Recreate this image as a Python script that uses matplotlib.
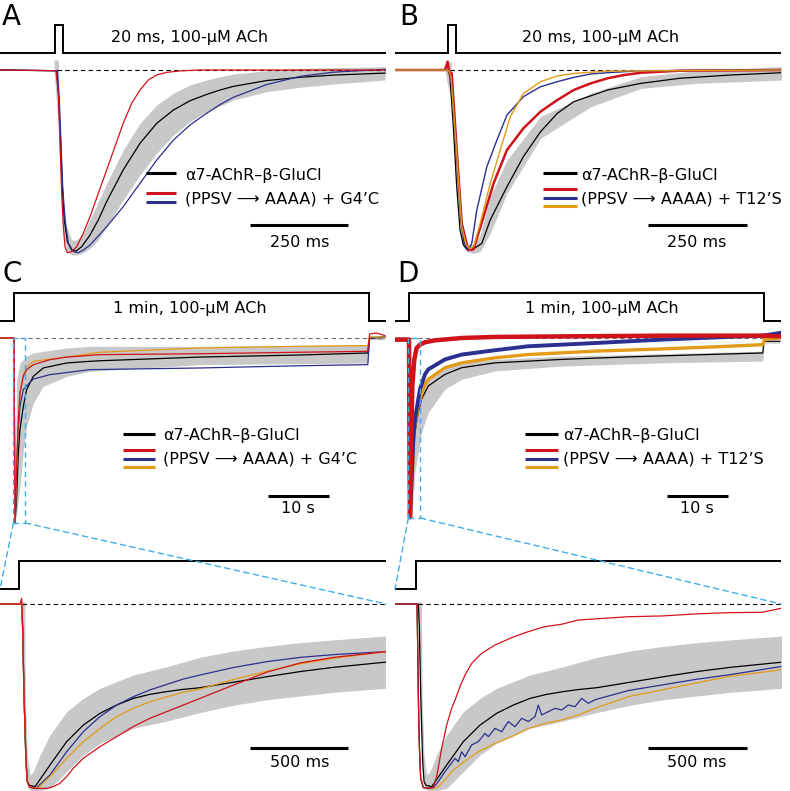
import numpy as np
import matplotlib
matplotlib.use('Agg')
import matplotlib.pyplot as plt
from matplotlib.lines import Line2D
from matplotlib.patches import Rectangle, ConnectionPatch

W, H = 790, 791

RED = '#d0121b'
BLUE = '#2b2f8f'
ORANGE = '#e39b17'
BAND = '#c8c8c8'
LINK = '#41aee8'

# ---------------- data (normalised current, 0 = baseline, -1 = peak) ----------------
# A: 20 ms pulse, time in ms
A_T_RED = [-140, 2.6, 8.5, 12.8, 17, 21.3, 25.5, 31.5, 42.5, 55.3, 72.3, 89.3, 110.5, 131.8, 153, 174, 195.6, 216.8, 238, 259.4, 285, 319, 370, 842]
A_I_RED = [0, -0.004, -0.128, -0.403, -0.678, -0.861, -0.971, -1.004, -0.998, -0.971, -0.897, -0.806, -0.678, -0.549, -0.421, -0.293, -0.183, -0.11, -0.055, -0.027, -0.013, -0.005, 0, 0]
A_T_BLUE = [-140, 5.9, 11, 15.3, 19.6, 25.5, 34, 46.8, 59.5, 72.3, 89.3, 131.8, 174, 216.8, 259.4, 302, 344.4, 387, 421, 455, 540, 625, 710, 842]
A_I_BLUE = [0, -0.004, -0.165, -0.403, -0.641, -0.824, -0.952, -0.998, -1.004, -0.989, -0.962, -0.861, -0.751, -0.623, -0.495, -0.385, -0.302, -0.238, -0.19, -0.15, -0.08, -0.035, -0.012, 0.004]
A_T_BLACK = [-140, 4.3, 9.4, 14.5, 18.7, 23.8, 31.5, 42.5, 53.6, 68, 89.3, 110.5, 131.8, 174, 216.8, 259.4, 302, 344.4, 387, 421, 455, 540, 625, 710, 842]
A_I_BLACK = [0, -0.004, -0.147, -0.403, -0.641, -0.824, -0.943, -0.989, -0.995, -0.971, -0.907, -0.824, -0.723, -0.549, -0.403, -0.293, -0.22, -0.169, -0.134, -0.11, -0.09, -0.058, -0.04, -0.028, -0.017]
A_T_BAND = [-2.6, 8.5, 12.8, 17, 23, 29.8, 42.5, 55.3, 72.3, 89.3, 110.5, 131.8, 174, 216.8, 259.4, 302, 344.4, 387, 421, 455, 540, 625, 710, 842]
A_BAND_HI = [0.055, 0.055, -0.311, -0.549, -0.751, -0.861, -0.934, -0.934, -0.897, -0.824, -0.723, -0.623, -0.44, -0.293, -0.192, -0.128, -0.082, -0.055, -0.037, -0.022, -0.004, 0.009, 0.013, 0.018]
A_BAND_LO = [-0.004, -0.311, -0.549, -0.751, -0.916, -0.989, -1.016, -1.016, -1.004, -0.98, -0.934, -0.861, -0.714, -0.577, -0.458, -0.357, -0.284, -0.229, -0.198, -0.165, -0.119, -0.095, -0.077, -0.055]

# B: 20 ms pulse, time in ms
B_T_RED = [-135.5, -8.5, -1.7, 1.7, 8.5, 21.2, 33.9, 50, 63.5, 89, 114.3, 148.2, 189.7, 232.9, 275.2, 316.7, 359.9, 402.2, 443.7, 486.9, 584.4, 842.8]
B_I_RED = [0, 0, 0.046, -0.009, -0.019, -0.444, -0.852, -1.0, -0.996, -0.815, -0.63, -0.444, -0.324, -0.231, -0.167, -0.111, -0.074, -0.046, -0.028, -0.015, -0.004, 0]
B_T_BLUE = [-135.5, -4.2, 1.7, 6.8, 21.2, 33.9, 40, 46.6, 52, 59.3, 72, 97.4, 122.8, 148.2, 189.7, 232.9, 275.2, 316.7, 359.9, 402.2, 486.9, 842.8]
B_I_BLUE = [0, 0, -0.004, -0.037, -0.463, -0.87, -0.96, -0.991, -0.995, -0.963, -0.778, -0.537, -0.389, -0.25, -0.148, -0.093, -0.065, -0.041, -0.022, -0.015, -0.004, 0]
B_T_ORANGE = [-135.5, -4.2, 1.7, 6.8, 21.2, 33.9, 45, 55.1, 65, 80.5, 105.9, 131.3, 156.7, 189.7, 232.9, 275.2, 316.7, 402.2, 842.8]
B_I_ORANGE = [0, 0, -0.004, -0.037, -0.463, -0.87, -0.97, -0.995, -0.975, -0.852, -0.63, -0.444, -0.259, -0.13, -0.065, -0.033, -0.019, -0.006, 0]
B_T_BLACK = [-135.5, -4.2, 0, 4.2, 12.7, 21.2, 29.6, 38.1, 46.6, 59.3, 84.7, 105.9, 148.2, 189.7, 232.9, 275.2, 316.7, 402.2, 486.9, 584.4, 711.5, 842.8]
B_I_BLACK = [0, 0, -0.004, -0.037, -0.315, -0.648, -0.889, -0.972, -0.996, -1.0, -0.963, -0.833, -0.648, -0.481, -0.343, -0.241, -0.176, -0.111, -0.074, -0.046, -0.028, -0.015]
B_T_BAND = [-8.5, -4.2, 6.8, 21.2, 33.9, 46.6, 63.5, 80.5, 105.9, 148.2, 232.9, 359.9, 486.9, 626.6, 842.8]
B_BAND_HI = [0, 0.046, 0.046, -0.426, -0.833, -0.963, -0.972, -0.917, -0.704, -0.5, -0.259, -0.13, -0.037, -0.004, 0.019]
B_BAND_LO = [0, -0.056, -0.167, -0.648, -0.963, -1.009, -1.019, -1.009, -0.907, -0.685, -0.38, -0.204, -0.102, -0.074, -0.056]

# C: 1 min application, time in s
C_T_RED = [-2.29, -0.11, 0, 0.16, 0.44, 0.71, 0.98, 1.53, 2.07, 3.17, 5.9, 8.63, 14.1, 30.5, 46.8, 58.0, 58.3, 59.4, 60.8]
C_I_RED = [0, 0, 0, -1.0, -0.694, -0.441, -0.297, -0.207, -0.171, -0.144, -0.117, -0.103, -0.09, -0.085, -0.077, -0.072, 0.022, 0.027, 0.013]
C_T_BLUE = [-2.29, 0, 0.16, 0.44, 0.71, 0.98, 1.53, 2.07, 3.17, 5.9, 12.45, 30.5, 46.8, 58.0, 58.3, 60.8]
C_I_BLUE = [0, 0, -1.0, -0.694, -0.495, -0.369, -0.279, -0.258, -0.222, -0.198, -0.171, -0.162, -0.15, -0.144, 0, 0.005]
C_T_ORANGE = [-2.29, 0, 0.16, 0.44, 0.71, 0.98, 1.53, 2.07, 3.17, 5.9, 8.63, 14.1, 30.5, 46.8, 58.0, 58.3, 60.8]
C_I_ORANGE = [0, 0, -1.0, -0.694, -0.441, -0.297, -0.198, -0.157, -0.126, -0.114, -0.103, -0.077, -0.054, -0.045, -0.041, 0.005, 0.005]
C_T_BLACK = [-2.29, 0, 0.16, 0.44, 0.71, 0.98, 1.53, 2.07, 3.17, 4.8, 8.63, 12.45, 14.1, 30.5, 46.8, 58.0, 58.3, 60.8]
C_I_BLACK = [0, 0, -1.0, -0.856, -0.622, -0.495, -0.369, -0.279, -0.207, -0.162, -0.135, -0.126, -0.123, -0.103, -0.092, -0.081, 0, 0.005]
C_T_BAND = [0.16, 0.44, 0.98, 1.53, 2.07, 3.17, 4.8, 8.63, 12.45, 30.5, 58.0, 58.3, 60.8]
C_BAND_HI = [-0.766, -0.225, -0.135, -0.117, -0.099, -0.081, -0.072, -0.054, -0.045, -0.045, -0.036, 0.013, 0.013]
C_BAND_LO = [-1.0, -0.946, -0.802, -0.604, -0.477, -0.351, -0.261, -0.207, -0.18, -0.144, -0.135, -0.009, -0.009]

# D: 1 min application, time in s
D_T_RED = [-2.29, -0.11, 0, 0.16, 0.33, 0.55, 0.87, 1.26, 1.8, 2.62, 4.26, 8.63, 14.1, 25.0, 41.4, 57.8, 58.0, 60.8]
D_I_RED = [-0.009, -0.009, -0.009, -0.996, -0.596, -0.266, -0.119, -0.055, -0.037, -0.024, -0.013, 0, 0.006, 0.009, 0.013, 0.013, 0.013, 0.009]
D_T_BLUE = [-2.29, -0.11, 0, 0.16, 0.44, 0.71, 0.98, 1.53, 1.8, 2.62, 3.17, 5.9, 8.63, 14.1, 19.5, 30.5, 41.4, 52.3, 58.0, 60.8]
D_I_BLUE = [-0.009, -0.009, -0.009, -0.996, -0.78, -0.56, -0.45, -0.339, -0.284, -0.202, -0.174, -0.119, -0.092, -0.068, -0.046, -0.028, -0.009, 0.006, 0.013, 0.028]
D_T_ORANGE = [0, 0.16, 0.44, 0.71, 0.98, 1.53, 2.07, 2.62, 3.17, 5.9, 8.63, 14.1, 19.5, 30.5, 41.4, 52.3, 58.0, 58.3, 60.8]
D_I_ORANGE = [-0.009, -0.996, -0.817, -0.596, -0.486, -0.376, -0.312, -0.257, -0.229, -0.165, -0.138, -0.11, -0.092, -0.073, -0.061, -0.046, -0.037, -0.006, 0]
D_T_BLACK = [0, 0.16, 0.44, 0.71, 0.98, 1.53, 2.07, 3.17, 5.9, 8.63, 14.1, 25.0, 35.9, 46.8, 58.0, 58.2, 60.8]
D_I_BLACK = [-0.009, -0.996, -0.853, -0.633, -0.523, -0.413, -0.339, -0.266, -0.202, -0.165, -0.138, -0.119, -0.105, -0.094, -0.083, -0.018, -0.018]
D_T_BAND = [0.44, 0.98, 2.07, 3.17, 5.9, 8.63, 14.1, 25.0, 41.4, 58.0, 58.2, 60.8]
D_BAND_HI = [-0.78, -0.45, -0.284, -0.229, -0.165, -0.138, -0.119, -0.101, -0.087, -0.073, -0.018, -0.018]
D_BAND_LO = [-0.996, -0.743, -0.523, -0.413, -0.284, -0.229, -0.183, -0.156, -0.138, -0.128, -0.028, -0.028]

# expanded first 2 s of C and D, time in ms
CZ_T_RED = [-98, 3.6, 12, 17, 20.5, 23.9, 28.9, 34, 40.8, 50.9, 71.2, 139, 172.6, 206.6, 240.4, 274, 325, 409.6, 494.4, 578.7, 663.5, 748.2, 832.5, 917.3, 1088, 1258, 1427, 1597, 1859]
CZ_I_RED = [0, 0, 0.031, -0.132, -0.313, -0.494, -0.676, -0.857, -0.965, -0.993, -1.002, -1.002, -0.993, -0.974, -0.938, -0.893, -0.838, -0.775, -0.721, -0.666, -0.621, -0.585, -0.549, -0.513, -0.44, -0.37, -0.32, -0.29, -0.259]
CZ_T_BLUE = [-98, 12, 17, 20.5, 23.9, 28.9, 34, 40.8, 50.9, 71.2, 88.2, 155.8, 240.4, 325, 409.6, 494.4, 578.7, 663.5, 748.2, 832.5, 917.3, 1088, 1258, 1427, 1597, 1859]
CZ_I_BLUE = [0, 0, -0.132, -0.313, -0.494, -0.676, -0.857, -0.965, -0.993, -1.0, -0.998, -0.929, -0.803, -0.694, -0.612, -0.549, -0.504, -0.467, -0.437, -0.408, -0.386, -0.345, -0.313, -0.29, -0.275, -0.259]
CZ_T_ORANGE = [-98, 12, 17, 20.5, 23.9, 28.9, 34, 40.8, 50.9, 71.2, 96.6, 155.8, 240.4, 325, 409.6, 494.4, 578.7, 663.5, 748.2, 832.5, 917.3, 1088, 1258, 1427, 1597, 1859]
CZ_I_ORANGE = [0, 0, -0.132, -0.313, -0.494, -0.676, -0.857, -0.965, -0.993, -1.0, -0.998, -0.938, -0.839, -0.748, -0.676, -0.612, -0.567, -0.531, -0.504, -0.48, -0.462, -0.41, -0.365, -0.325, -0.295, -0.259]

DZ_T_RED = [-107, 0, 5.1, 8.5, 11.8, 16.9, 23.7, 37.2, 62.6, 88, 105, 130.3, 155.6, 181, 198, 223.4, 248.7, 282.6, 333.4, 401, 485.6, 570.2, 654.8, 739.4, 824, 908.6, 1079.7, 1249.2, 1418.7, 1588.2, 1757.7, 1851]
DZ_I_RED = [0, 0, 0, -0.223, -0.494, -0.766, -0.947, -0.998, -1.002, -0.993, -0.938, -0.784, -0.658, -0.567, -0.522, -0.449, -0.386, -0.323, -0.268, -0.223, -0.183, -0.15, -0.123, -0.11, -0.087, -0.081, -0.069, -0.065, -0.054, -0.047, -0.045, -0.024]
DZ_T_BLUE = [-107, 0, 5.1, 8.5, 11.8, 16.9, 23.7, 37.2, 62.6, 88, 113.4, 147.2, 172.6, 198, 214.9, 231.8, 248.7, 282.6, 316.4, 350.3,
             367.2, 401, 434.9, 468.7, 502.5, 536.4, 570.2, 604.1, 621, 637.9, 671.7, 705.6, 739.4, 773.3, 807.1, 841, 874.8, 908.6,
             1079.7, 1249.2, 1418.7, 1588.2, 1851]
DZ_I_BLUE = [0, 0, 0, -0.223, -0.494, -0.766, -0.947, -0.998, -1.002, -0.998, -0.965, -0.911, -0.875, -0.839, -0.857, -0.803, -0.83, -0.766, -0.748, -0.703,
             -0.721, -0.676, -0.694, -0.639, -0.667, -0.621, -0.639, -0.612, -0.549, -0.603, -0.585, -0.567, -0.576, -0.549, -0.558, -0.513, -0.54, -0.52,
             -0.47, -0.44, -0.41, -0.385, -0.34]
DZ_T_ORANGE = [-107, 0, 5.1, 8.5, 11.8, 16.9, 23.7, 37.2, 62.6, 96.4, 113.4, 147.2, 181, 231.8, 316.4, 401, 485.6, 570.2, 654.8, 739.4, 824, 908.6, 1079.7, 1249.2, 1418.7, 1588.2, 1851]
DZ_I_ORANGE = [0, 0, 0, -0.223, -0.494, -0.766, -0.947, -0.998, -1.002, -1.002, -0.993, -0.957, -0.911, -0.866, -0.803, -0.757, -0.721, -0.676, -0.649, -0.63, -0.603, -0.567, -0.503, -0.467, -0.43, -0.394, -0.358]

# alpha7 control (mean and spread), shared by both expanded panels
Z_T_BLACK = [-110, 12, 17, 20.5, 23.9, 28.9, 34, 40.8, 50.9, 79.7, 155.8, 240.4, 325, 409.6, 494.4, 578.7, 663.5, 748.2, 832.5, 917.3, 1088, 1258, 1427, 1597, 1859]
Z_I_BLACK = [0, 0, -0.132, -0.313, -0.494, -0.676, -0.857, -0.965, -0.985, -0.993, -0.875, -0.748, -0.658, -0.594, -0.549, -0.513, -0.491, -0.476, -0.464, -0.455, -0.425, -0.395, -0.367, -0.344, -0.316]
Z_T_BAND = [10.3, 13.7, 27.3, 30.6, 40.8, 54.3, 71.2, 105, 155.8, 240.4, 325, 409.6, 578.7, 748.2, 917.3, 1088, 1258, 1427, 1597, 1859]
Z_BAND_HI = [0, 0.013, 0.013, -0.494, -0.821, -0.929, -0.911, -0.821, -0.712, -0.585, -0.513, -0.458, -0.386, -0.341, -0.29, -0.255, -0.23, -0.21, -0.195, -0.174]
Z_BAND_LO = [0, -0.187, -0.676, -0.821, -0.993, -1.011, -1.014, -1.014, -1.002, -0.911, -0.821, -0.757, -0.676, -0.636, -0.59, -0.55, -0.52, -0.5, -0.48, -0.458]

# agonist application traces (0 = off, 1 = on)
PULSE_T = [-150, 0, 0, 20, 20, 900]
PULSE_ON = [0, 0, 1, 1, 0, 0]
LONG_T = [-3, 0, 0, 58.2, 58.2, 62]
LONG_ON = [0, 0, 1, 1, 0, 0]
STEP_T = [-120, 0, 0, 1900]
STEP_ON = [0, 0, 1, 1]

LABEL_CTRL = 'α7-AChR–β-GluCl'
LABEL_G4C = '(PPSV ⟶ AAAA) + G4’C'
LABEL_T12S = '(PPSV ⟶ AAAA) + T12’S'

# ---------------- drawing ----------------
fig = plt.figure(figsize=(7.9, 7.91), dpi=100)
FS = 11.5


def panel_axes(box, x_zero, x_scale, y_zero, y_scale):
    # box in figure pixels (left, top, right, bottom)
    x0, y0, x1, y1 = box
    ax = fig.add_axes([x0 / W, 1 - y1 / H, (x1 - x0) / W, (y1 - y0) / H])
    ax.set_xlim((x0 - x_zero) / x_scale, (x1 - x_zero) / x_scale)
    ax.set_ylim((y_zero - y1) / y_scale, (y_zero - y0) / y_scale)
    ax.axis('off')
    return ax


def fig_text(x, y, s, size=FS, ha='center'):
    fig.text(x / W, 1 - y / H, s, ha=ha, va='baseline', fontsize=size)


def fig_swatch(x0, x1, y, color):
    fig.add_artist(Line2D([x0 / W, x1 / W], [1 - y / H, 1 - y / H], color=color,
                          lw=2.2, solid_capstyle='butt'))


def stim(ax, t, on, base, height):
    ax.plot(t, base + height * np.array(on), color='k', lw=1.4,
            solid_joinstyle='miter', solid_capstyle='butt')


def baseline(ax, t0, t1, color='k'):
    ax.plot([t0, t1], [0, 0], color=color, lw=0.8, ls=(0, (4, 3)), zorder=2)


def traces(ax, band, black, colored):
    ax.fill_between(band[0], band[1], band[2], color=BAND, lw=0, zorder=1)
    ax.plot(black[0], black[1], color='k', lw=0.9, zorder=3)
    for t, i, c, lw in colored:
        ax.plot(t, i, color=c, lw=lw, zorder=4, solid_joinstyle='round')


def scalebar(ax, t0, length, y):
    ax.plot([t0, t0 + length], [y, y], color='k', lw=2.2, solid_capstyle='butt')


# panel A
axA = panel_axes((0, 15, 386, 262), 55, 0.392, 70, 182)
stim(axA, PULSE_T, PULSE_ON, 0.0934, 0.154)
baseline(axA, 5, 845)
traces(axA, (A_T_BAND, A_BAND_HI, A_BAND_LO), (A_T_BLACK, A_I_BLACK),
       [(A_T_BLUE, A_I_BLUE, BLUE, 0.9), (A_T_RED, A_I_RED, RED, 0.9)])
scalebar(axA, 497, 250, -0.852)

# panel B
axB = panel_axes((395, 15, 781, 262), 448.3, 0.396, 70, 180)
stim(axB, PULSE_T, PULSE_ON, 0.0944, 0.156)
baseline(axB, 4, 845)
traces(axB, (B_T_BAND, B_BAND_HI, B_BAND_LO), (B_T_BLACK, B_I_BLACK),
       [(B_T_RED, B_I_RED, RED, 1.8), (B_T_BLUE, B_I_BLUE, BLUE, 1.0),
        (B_T_ORANGE, B_I_ORANGE, ORANGE, 1.0)])
scalebar(axB, 504, 250, -0.861)

# panel C (1 min)
axC = panel_axes((0, 285, 386, 530), 14, 6.1, 338, 185)
stim(axC, LONG_T, LONG_ON, 0.092, 0.151)
baseline(axC, 1.0, 61.5, color='#707070')
traces(axC, (C_T_BAND, C_BAND_HI, C_BAND_LO), (C_T_BLACK, C_I_BLACK),
       [(C_T_BLUE, C_I_BLUE, BLUE, 0.9), (C_T_ORANGE, C_I_ORANGE, ORANGE, 0.9),
        (C_T_RED, C_I_RED, RED, 0.9)])
scalebar(axC, 41.6, 10, -0.854)

# panel D (1 min)
axD = panel_axes((395, 285, 781, 530), 409, 6.1, 338, 180)
stim(axD, LONG_T, LONG_ON, 0.0944, 0.156)
baseline(axD, -1.2, 61.5, color='#707070')
traces(axD, (D_T_BAND, D_BAND_HI, D_BAND_LO), (D_T_BLACK, D_I_BLACK),
       [(D_T_ORANGE, D_I_ORANGE, ORANGE, 2.4), (D_T_BLUE, D_I_BLUE, BLUE, 2.8),
        (D_T_RED, D_I_RED, RED, 3.2)])
scalebar(axD, 42.3, 10, -0.878)

# expanded C
axCz = panel_axes((0, 550, 386, 791), 19.3, 0.197, 604, 184)
stim(axCz, STEP_T, STEP_ON, 0.0815, 0.152)
baseline(axCz, 14, 1900)
traces(axCz, (Z_T_BAND, Z_BAND_HI, Z_BAND_LO), (Z_T_BLACK, Z_I_BLACK),
       [(CZ_T_BLUE, CZ_I_BLUE, BLUE, 0.9), (CZ_T_ORANGE, CZ_I_ORANGE, ORANGE, 0.9),
        (CZ_T_RED, CZ_I_RED, RED, 0.9)])
scalebar(axCz, 1171, 500, -0.783)

# expanded D
axDz = panel_axes((395, 550, 781, 791), 416, 0.197, 604, 184)
stim(axDz, STEP_T, STEP_ON, 0.0815, 0.152)
baseline(axDz, 10, 1900)
traces(axDz, (Z_T_BAND, Z_BAND_HI, Z_BAND_LO), (Z_T_BLACK, Z_I_BLACK),
       [(DZ_T_ORANGE, DZ_I_ORANGE, ORANGE, 0.9), (DZ_T_BLUE, DZ_I_BLUE, BLUE, 0.9),
        (DZ_T_RED, DZ_I_RED, RED, 0.9)])
scalebar(axDz, 1178, 500, -0.783)

# zoom window boxes and connectors
for top, bottom in [(axC, axCz), (axD, axDz)]:
    lo, hi = bottom.get_xlim()
    top.add_patch(Rectangle((lo / 1000, -1.0), (hi - lo) / 1000, 1.0, fill=False,
                            ec=LINK, lw=1.0, ls=(0, (4, 3)), clip_on=False, zorder=5))
    for xa, xb, yb in [(lo, lo, 0.0815), (hi, hi, 0)]:
        con = ConnectionPatch(xyA=(xa / 1000, -1.0), coordsA=top.transData,
                              xyB=(xb, yb), coordsB=bottom.transData,
                              color=LINK, lw=1.0, ls=(0, (4, 3)), zorder=5)
        fig.add_artist(con)

# texts
for x, y, s in [(2, 25, 'A'), (399, 25, 'B'), (2, 282, 'C'), (397, 282, 'D')]:
    fig_text(x, y, s, size=20, ha='left')
fig_text(190, 42, '20 ms, 100-μM ACh')
fig_text(601, 42, '20 ms, 100-μM ACh')
fig_text(190, 313, '1 min, 100-μM ACh')
fig_text(602, 313, '1 min, 100-μM ACh')
fig_text(300, 247, '250 ms')
fig_text(697, 247, '250 ms')
fig_text(298, 513, '10 s')
fig_text(697, 513, '10 s')
fig_text(300, 767, '500 ms')
fig_text(697, 767, '500 ms')

# legends
fig_swatch(146, 176, 173, 'k')
fig_swatch(146, 176, 192.5, RED)
fig_swatch(146, 176, 202, BLUE)
fig_text(185, 180, LABEL_CTRL, ha='left')
fig_text(185, 203, LABEL_G4C, ha='left')

fig_swatch(543, 577, 173, 'k')
fig_swatch(543, 577, 189, RED)
fig_swatch(543, 577, 197.5, BLUE)
fig_swatch(543, 577, 206, ORANGE)
fig_text(581, 180, LABEL_CTRL, ha='left')
fig_text(581, 204, LABEL_T12S, ha='left')

fig_swatch(123, 155, 434, 'k')
fig_swatch(123, 155, 450, RED)
fig_swatch(123, 155, 458.5, BLUE)
fig_swatch(123, 155, 467, ORANGE)
fig_text(163, 440, LABEL_CTRL, ha='left')
fig_text(163, 464, LABEL_G4C, ha='left')

fig_swatch(525, 558, 434, 'k')
fig_swatch(525, 558, 450, RED)
fig_swatch(525, 558, 458.5, BLUE)
fig_swatch(525, 558, 467, ORANGE)
fig_text(563, 440, LABEL_CTRL, ha='left')
fig_text(563, 464, LABEL_T12S, ha='left')

fig.savefig('out.png', dpi=100)
